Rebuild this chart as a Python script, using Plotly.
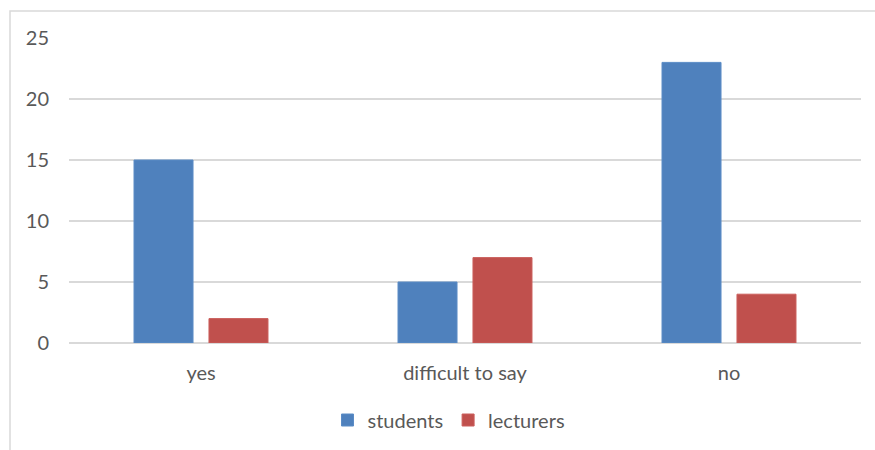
import plotly.graph_objects as go

categories = ["yes", "difficult to say", "no"]
students = [15, 5, 23]
lecturers = [2, 7, 4]
y_ticks = [0, 5, 10, 15, 20, 25]

W, H = 875, 450
L, R, T, B = 69, 14, 38, 107
pw, ph = W - L - R, H - T - B

def px(x):
    return (x - L) / pw

def py(y):
    return (H - B - y) / ph

font = dict(family="Lato, Open Sans, sans-serif", size=20, color="#595959")

fig = go.Figure()
fig.add_trace(go.Bar(name="students", x=categories, y=students,
                     marker=dict(color="#4F81BD", line=dict(color="#5B8CC6", width=1))))
fig.add_trace(go.Bar(name="lecturers", x=categories, y=lecturers,
                     marker=dict(color="#C0504D", line=dict(color="#CB5F5C", width=1))))

fig.update_layout(
    width=W, height=H,
    margin=dict(l=L, r=R, t=T, b=B, autoexpand=False),
    paper_bgcolor="white", plot_bgcolor="white",
    barmode="group", bargap=0.432, bargroupgap=0.213,
    font=font,
    showlegend=True,
    legend=dict(orientation="h", x=px(449), xanchor="center", y=py(420), yanchor="middle",
                font=dict(size=20, color="#595959"), itemwidth=30, traceorder="normal"),
    xaxis=dict(showgrid=False, showline=False, zeroline=False, ticks="",
               tickfont=dict(size=20, color="#595959"), ticklabelstandoff=16),
    yaxis=dict(range=[0, 25], tickvals=y_ticks, showgrid=True, gridcolor="#D9D9D9",
               gridwidth=1.5, zeroline=True, zerolinecolor="#D9D9D9", zerolinewidth=1.5,
               showline=False, ticks="", tickfont=dict(size=20, color="#595959"),
               ticklabelstandoff=19),
    shapes=[dict(type="rect", xref="paper", yref="paper",
                 x0=px(10), x1=px(900), y0=py(470), y1=py(11),
                 line=dict(color="#D9D9D9", width=1.5), layer="below")],
)

fig.write_html("out.html")
